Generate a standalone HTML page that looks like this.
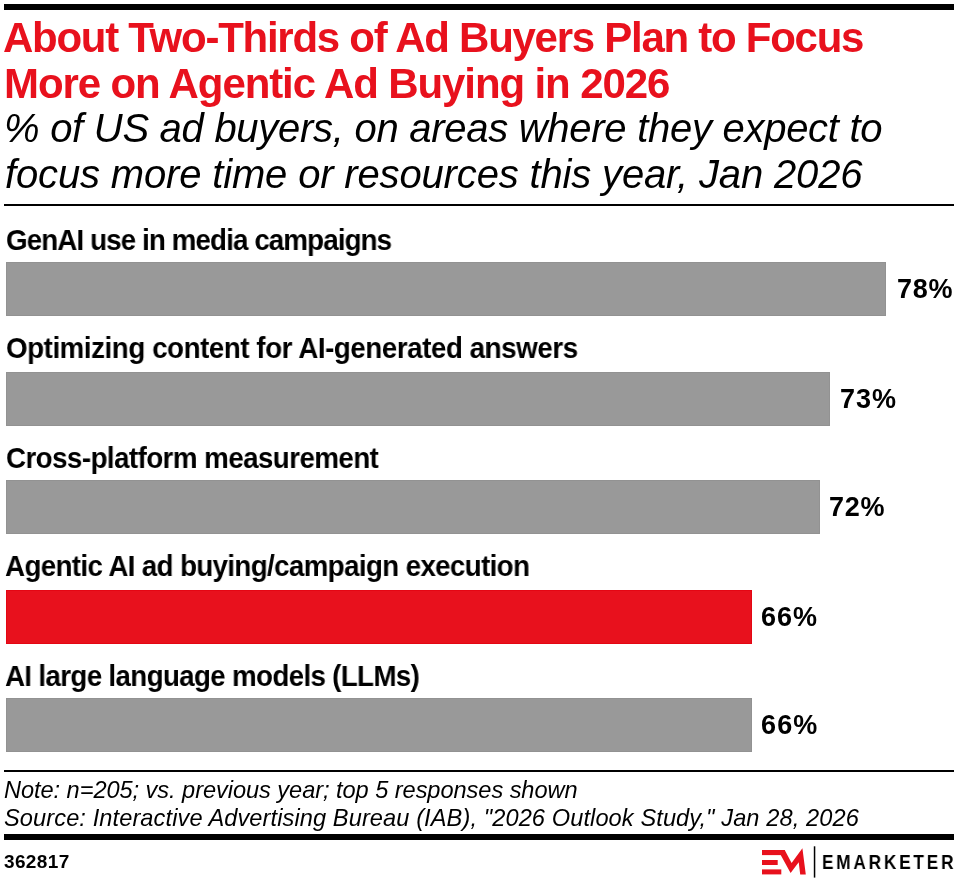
<!DOCTYPE html>
<html><head><meta charset="utf-8">
<style>
html,body{margin:0;padding:0;background:#fff;}
body{width:958px;height:884px;overflow:hidden;position:relative;font-family:"Liberation Sans",sans-serif;color:#000;}
.a{position:absolute;white-space:nowrap;will-change:transform;}
.r{position:absolute;left:4px;width:950px;background:#000;}
.b{position:absolute;left:6px;height:54px;background:#999;box-shadow:inset 0 0 0 1px #929292;}
</style></head>
<body>
<div class="r" style="top:4px;height:6px"></div>
<div class="r" style="top:204px;height:2px"></div>
<div class="r" style="top:770px;height:2px"></div>
<div class="r" style="top:834px;height:6px"></div>
<div class="b" style="top:262px;width:880px"></div>
<div class="b" style="top:372px;width:824px"></div>
<div class="b" style="top:480px;width:814px"></div>
<div class="b" style="top:590px;width:746px;background:#e8111d;box-shadow:inset 0 0 0 1px #e40613"></div>
<div class="b" style="top:698px;width:746px"></div>
<div class="a" style="left:3.024px;top:13.07px;font-size:42px;line-height:50px;font-weight:bold;color:#e8111d;letter-spacing:-1.2675px">About Two-Thirds of Ad Buyers Plan to Focus</div>
<div class="a" style="left:3.76px;top:59.07px;font-size:42px;line-height:50px;font-weight:bold;color:#e8111d;letter-spacing:-1.1021px">More on Agentic Ad Buying in 2026</div>
<div class="a" style="left:4.216px;top:104.06px;font-size:40px;line-height:48px;font-style:italic;letter-spacing:-0.2767px">% of US ad buyers, on areas where they expect to</div>
<div class="a" style="left:5.168px;top:150.06px;font-size:40px;line-height:48px;font-style:italic;letter-spacing:-0.1568px">focus more time or resources this year, Jan 2026</div>
<div class="a" style="left:5.759px;top:222.05px;font-size:29.5px;line-height:35px;font-weight:bold;letter-spacing:-0.9379px;transform:scaleX(0.94);transform-origin:0 0">GenAI use in media campaigns</div>
<div class="a" style="left:5.616px;top:330.05px;font-size:29.5px;line-height:35px;font-weight:bold;letter-spacing:-0.4707px;transform:scaleX(0.94);transform-origin:0 0">Optimizing content for AI-generated answers</div>
<div class="a" style="left:5.711px;top:440.05px;font-size:29.5px;line-height:35px;font-weight:bold;letter-spacing:-0.5932px;transform:scaleX(0.94);transform-origin:0 0">Cross-platform measurement</div>
<div class="a" style="left:5.37px;top:548.05px;font-size:29.5px;line-height:35px;font-weight:bold;letter-spacing:-0.6741px;transform:scaleX(0.94);transform-origin:0 0">Agentic AI ad buying/campaign execution</div>
<div class="a" style="left:5.37px;top:658.05px;font-size:29.5px;line-height:35px;font-weight:bold;letter-spacing:-0.6983px;transform:scaleX(0.94);transform-origin:0 0">AI large language models (LLMs)</div>
<div class="a" style="left:896.544px;top:273.05px;font-size:27px;line-height:32px;font-weight:bold;letter-spacing:0.7218px">78%</div>
<div class="a" style="left:839.544px;top:383.05px;font-size:27px;line-height:32px;font-weight:bold;letter-spacing:0.9672px">73%</div>
<div class="a" style="left:828.744px;top:491.05px;font-size:27px;line-height:32px;font-weight:bold;letter-spacing:0.768px">72%</div>
<div class="a" style="left:761.136px;top:601.05px;font-size:27px;line-height:32px;font-weight:bold;letter-spacing:0.9518px">66%</div>
<div class="a" style="left:761.336px;top:709.05px;font-size:27px;line-height:32px;font-weight:bold;letter-spacing:1.149px">66%</div>
<div class="a" style="left:3.928px;top:776.07px;font-size:23.6px;line-height:28px;font-style:italic;letter-spacing:-0.0538px">Note: n=205; vs. previous year; top 5 responses shown</div>
<div class="a" style="left:4.176px;top:804.07px;font-size:23.6px;line-height:28px;font-style:italic;letter-spacing:0.0993px">Source: Interactive Advertising Bureau (IAB), "2026 Outlook Study," Jan 28, 2026</div>
<div class="a" style="left:3.944px;top:850.07px;font-size:19px;line-height:23px;font-weight:bold;letter-spacing:0.3611px">362817</div>
<div class="a" style="left:822.112px;top:850.05px;font-size:20px;line-height:24px;font-weight:bold;letter-spacing:3.2834px;transform:scaleX(0.86);transform-origin:0 0">EMARKETER</div>
<svg class="a" style="left:0;top:0" width="958" height="884" viewBox="0 0 958 884"><g fill="#e8111d"><rect x="762" y="850" width="22.7" height="5.1"/><rect x="762" y="860" width="15.7" height="5"/><rect x="762" y="869.4" width="19.3" height="5"/><polygon points="784.7,850 791.6,862.9 802.4,848.2 805.8,874.5 800.2,874.5 798.7,862.2 790.6,873 780.7,855.1 780,855.1 780,850"/></g><rect x="813.8" y="846.3" width="1.5" height="31.3" fill="#000"/></svg>
</body></html>
